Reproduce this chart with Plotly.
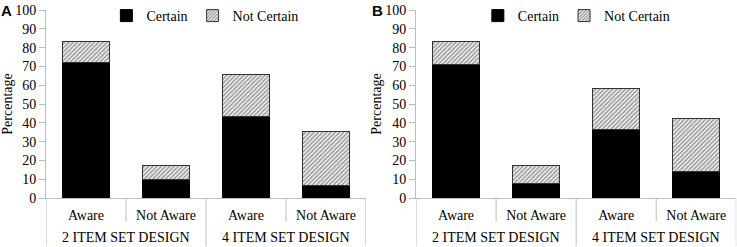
import plotly.graph_objects as go
from plotly.subplots import make_subplots

groups = ["2 ITEM SET DESIGN", "2 ITEM SET DESIGN", "4 ITEM SET DESIGN", "4 ITEM SET DESIGN"]
categories = ["Aware", "Not Aware", "Aware", "Not Aware"]

a_certain = [72, 10, 43.5, 6.5]
a_not_certain = [11, 7.5, 22, 29]
b_certain = [71, 7.5, 36.5, 14]
b_not_certain = [12, 10, 21.5, 28.5]

y_ticks = list(range(0, 101, 10))
FONT = "Liberation Serif"
AXC = "#bdbdbd"

idx = list(range(len(categories)))
fig = make_subplots(rows=1, cols=2)

panels = [(a_certain, a_not_certain, "legend", 1), (b_certain, b_not_certain, "legend2", 2)]
for cert, ncert, leg, col in panels:
    fig.add_trace(go.Bar(x=idx, y=cert, name="Certain",
                         marker=dict(color="black", line=dict(color="black", width=1)),
                         legend=leg), row=1, col=col)
    fig.add_trace(go.Bar(x=idx, y=ncert, name="Not Certain",
                         marker=dict(color="white", line=dict(color="#333", width=1),
                                     pattern=dict(shape="/", fgcolor="#333", bgcolor="#f0f0f0",
                                                  size=3, solidity=0.45)),
                         legend=leg), row=1, col=col)

fig.update_layout(
    width=737, height=247, barmode="stack", bargap=0.41,
    margin=dict(l=0, r=0, t=7, b=49),
    paper_bgcolor="white", plot_bgcolor="white",
    font=dict(family=FONT, size=14, color="black"),
    legend=dict(orientation="h", x=0.278, xanchor="center", y=1.055, yanchor="top",
                font=dict(family=FONT, size=14), itemwidth=30, traceorder="normal",
                bgcolor="rgba(0,0,0,0)"),
    legend2=dict(orientation="h", x=0.782, xanchor="center", y=1.055, yanchor="top",
                 font=dict(family=FONT, size=14), itemwidth=30, traceorder="normal",
                 bgcolor="rgba(0,0,0,0)"),
    xaxis=dict(domain=[0.0624, 0.4966]),
    xaxis2=dict(domain=[0.5645, 0.999]),
)

fig.update_xaxes(range=[-0.5, len(categories) - 0.5], tickvals=idx, ticktext=categories,
                 showline=True, linecolor=AXC, linewidth=1, ticks="", ticklabelstandoff=4,
                 showgrid=False, zeroline=False, automargin=False,
                 tickfont=dict(family=FONT, size=14))
fig.update_yaxes(range=[0, 100], tickvals=y_ticks, showline=True, linecolor=AXC,
                 linewidth=1, ticks="outside", ticklen=6, tickcolor=AXC,
                 showgrid=False, zeroline=False, automargin=False,
                 ticklabeloverflow="allow",
                 tickfont=dict(family=FONT, size=14))
fig.update_yaxes(title_text="Percentage", title_font=dict(family=FONT, size=14),
                 title_standoff=0)

# axis decorations: dividers between categories and group labels
plot_h = 247 - 7 - 49
full = -49 / plot_h
short = -24 / plot_h
for col in (1, 2):
    xr = "x" if col == 1 else "x2"
    bounds = [i - 0.5 for i in idx] + [idx[-1] + 0.5]
    for b in bounds:
        left_g = groups[int(b - 0.5)] if b - 0.5 >= 0 else None
        right_g = groups[int(b + 0.5)] if b + 0.5 < len(groups) else None
        y0 = full if left_g != right_g else short
        fig.add_shape(type="line", xref=xr, yref="paper", x0=b, x1=b, y0=0, y1=y0,
                      line=dict(color=AXC, width=1))
    seen = []
    for g in groups:
        if g in seen:
            continue
        seen.append(g)
        pos = [i for i, gg in enumerate(groups) if gg == g]
        fig.add_annotation(text=g, xref=xr, yref="paper", x=sum(pos) / len(pos),
                           y=-40 / plot_h, yanchor="middle", showarrow=False,
                           font=dict(family=FONT, size=14))

fig.add_annotation(text="<b>A</b>", xref="paper", yref="paper", x=-0.002, y=1.0,
                   xanchor="left", yanchor="middle", showarrow=False,
                   font=dict(family="Liberation Sans", size=15))
fig.add_annotation(text="<b>B</b>", xref="paper", yref="paper", x=0.502, y=1.0,
                   xanchor="left", yanchor="middle", showarrow=False,
                   font=dict(family="Liberation Sans", size=15))

fig.write_html("out.html", config={"displayModeBar": False},
               post_script="document.body.style.margin='0';document.body.style.overflow='hidden';")
